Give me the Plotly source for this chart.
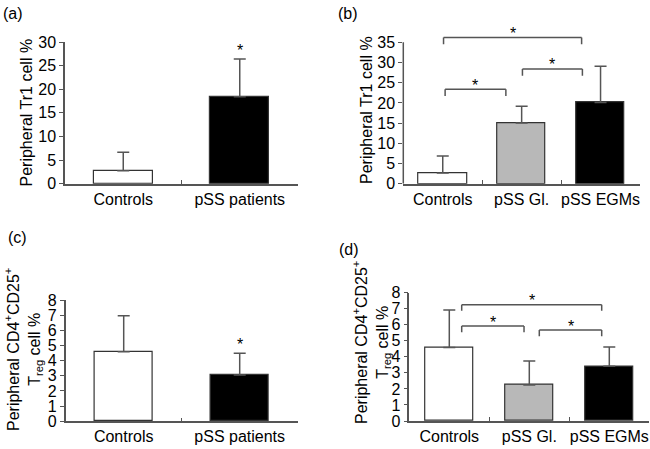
import plotly.graph_objects as go

# ---------------- data ----------------
cat_two = ["Controls", "pSS patients"]
cat_three = ["Controls", "pSS Gl.", "pSS EGMs"]

tr1_two_mean = [2.75, 18.4]
tr1_two_sd = [3.9, 8.0]
tr1_three_mean = [2.65, 15.0, 20.1]
tr1_three_sd = [4.2, 4.15, 8.95]

treg_two_mean = [4.59, 3.05]
treg_two_sd = [2.37, 1.43]
treg_three_mean = [4.59, 2.24, 3.41]
treg_three_sd = [2.33, 1.5, 1.2]

# significance brackets (left, right, level) in category / value units
tr1_brackets = [(0.01, 1.76, 36.2), (1.01, 1.77, 28.4), (0.03, 0.80, 23.4)]
treg_brackets = [(0.155, 1.905, 7.25), (0.155, 0.934, 5.92), (1.125, 1.905, 5.67)]

colors_two = ["white", "black"]
colors_three = ["white", "#b8b8b8", "black"]

tr1_title = "Peripheral Tr1 cell %"
treg_title = "Peripheral CD4<sup>+</sup>CD25<sup>+</sup><br>T<sub>reg</sub> cell %"

FONT = "Liberation Sans, Arial, Helvetica, sans-serif"
AX = "#555555"
EDGE = "#333333"

fig = go.Figure()


def add_bars(cats, means, sds, colors, width, xa, ya):
    fig.add_trace(go.Bar(
        x=cats, y=means, width=width,
        marker=dict(color=colors, line=dict(color=EDGE, width=1.2)),
        error_y=dict(type="data", symmetric=False, array=sds,
                     arrayminus=[0] * len(sds), color=AX, thickness=1.5, width=6),
        xaxis=xa, yaxis=ya, showlegend=False, hoverinfo="skip"))


add_bars(cat_two, tr1_two_mean, tr1_two_sd, colors_two, 0.51, "x", "y")
add_bars(cat_three, tr1_three_mean, tr1_three_sd, colors_three, 0.61, "x2", "y2")
add_bars(cat_two, treg_two_mean, treg_two_sd, colors_two, 0.50, "x3", "y3")
add_bars(cat_three, treg_three_mean, treg_three_sd, colors_three, 0.60, "x4", "y4")

shapes = []
annotations = []


def star(xref, yref, x, y, shift):
    annotations.append(dict(xref=xref, yref=yref, x=x, y=y, text="*",
                            showarrow=False, yanchor="middle", yshift=shift,
                            font=dict(family=FONT, size=16, color="black")))


def brackets(blist, xref, yref, leg):
    for x0, x1, lvl in blist:
        shapes.append(dict(type="line", xref=xref, yref=yref, x0=x0, x1=x1, y0=lvl, y1=lvl,
                           line=dict(color=AX, width=1.5)))
        for xx in (x0, x1):
            shapes.append(dict(type="line", xref=xref, yref=yref, x0=xx, x1=xx,
                               y0=lvl, y1=lvl - leg, line=dict(color=AX, width=1.5)))
        star(xref, yref, (x0 + x1) / 2, lvl, 4)


brackets(tr1_brackets, "x2", "y2", 1.7)
brackets(treg_brackets, "x4", "y4", 0.38)

# stars above the patient bars in (a) and (c)
star("x", "y", 1, tr1_two_mean[1] + tr1_two_sd[1], 9)
star("x3", "y3", 1, treg_two_mean[1] + treg_two_sd[1], 9)

# y axis line for (b), drawn only up to 35
shapes.append(dict(type="line", xref="x2 domain", yref="y2", x0=0, x1=0, y0=0, y1=35,
                   line=dict(color=AX, width=1.5)))

# panel labels
for txt, px, py in [("(a)", 1, 3), ("(b)", 336, 3), ("(c)", 6, 227), ("(d)", 337, 239)]:
    annotations.append(dict(xref="paper", yref="paper", x=px / 650, y=1 - py / 449,
                            xanchor="left", yanchor="top", text=txt, showarrow=False,
                            font=dict(family=FONT, size=16, color="black")))

# y-axis titles (rotated)
for txt, cx, cy in [(tr1_title, 26, 112.5), (tr1_title, 367, 110),
                    (treg_title, 23, 350), (treg_title, 371, 343)]:
    annotations.append(dict(xref="paper", yref="paper", x=cx / 650, y=1 - cy / 449,
                            xanchor="center", yanchor="middle", text=txt, textangle=-90,
                            showarrow=False,
                            font=dict(family=FONT, size=16, color="black")))


def xax(domain, anchor):
    return dict(domain=domain, anchor=anchor, showline=True, linecolor=AX, linewidth=1.5,
                ticks="inside", tickson="boundaries", ticklen=4, tickwidth=1.2, tickcolor=AX,
                tickangle=0, automargin=False,
                tickfont=dict(family=FONT, size=16, color="black"), showgrid=False,
                zeroline=False, fixedrange=True)


def yax(domain, rng, dtick, anchor, showline=True):
    return dict(domain=domain, range=rng, dtick=dtick, anchor=anchor,
                showline=showline, linecolor=AX, linewidth=1.5, automargin=False,
                ticks="outside", ticklen=4, tickwidth=1.2, tickcolor=AX,
                tickfont=dict(family=FONT, size=16, color="black"),
                showgrid=False, zeroline=False, fixedrange=True)


fig.update_layout(
    width=650, height=449,
    margin=dict(l=0, r=0, t=0, b=0, autoexpand=False),
    paper_bgcolor="white", plot_bgcolor="white",
    template="none",
    font=dict(family=FONT, color="black"),
    bargap=0,
    xaxis=xax([65 / 650, 298 / 650], "y"),
    yaxis=yax([1 - 183.7 / 449, 1 - 42 / 449], [0, 30], 5, "x"),
    xaxis2=xax([403.3 / 650, 640 / 650], "y2"),
    yaxis2=yax([1 - 183.7 / 449, 1 - 32.2 / 449], [0, 37.5], 5, "x2", showline=False),
    xaxis3=xax([65.7 / 650, 297.7 / 650], "y3"),
    yaxis3=yax([1 - 421.3 / 449, 1 - 300 / 449], [0, 8], 1, "x3"),
    xaxis4=xax([409.3 / 650, 649.3 / 650], "y4"),
    yaxis4=yax([1 - 421 / 449, 1 - 292.7 / 449], [0, 8], 1, "x4"),
    shapes=shapes,
    annotations=annotations,
)

fig.write_html(
    "out.html",
    config={"displayModeBar": False},
    post_script="document.body.style.margin='0';document.body.style.padding='0';",
)
